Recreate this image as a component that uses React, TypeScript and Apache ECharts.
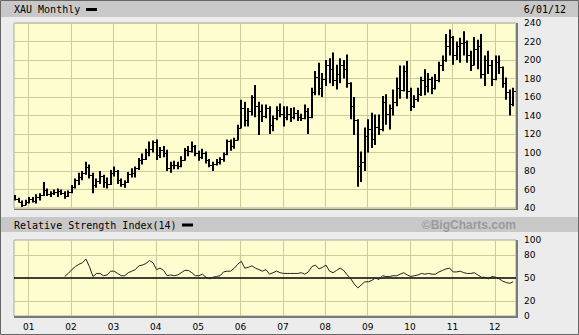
import React, { useEffect, useRef } from 'react';
import * as echarts from 'echarts';

// Monthly bars, Sep 2000 .. Jun 2012 (month index relative to Jan 2001 starts at -4)
const firstMonthIndex = -4;

const opens = [
  53, 50, 47, 43,
  47, 50, 48, 52, 54, 60, 55, 56, 57, 58, 56, 53,
  57, 63, 70, 73, 78, 84, 76, 65, 69, 75, 68, 66,
  78, 80, 70, 66, 68, 77, 78, 83, 92, 93, 101, 104,
  111, 97, 103, 100, 83, 86, 87, 85, 92, 103, 102, 107,
  100, 95, 100, 92, 86, 88, 90, 93, 98, 112, 107, 114,
  127, 148, 135, 145, 160, 150, 145, 140, 148, 130, 137, 146,
  142, 138, 142, 138, 143, 138, 137, 145, 138, 165, 182, 170,
  180, 195, 190, 178, 185, 195, 190, 175, 150, 135, 85, 90,
  118, 125, 115, 128, 125, 155, 142, 148, 155, 170, 168, 188,
  167, 150, 158, 163, 178, 172, 180, 170, 178, 195, 200, 215,
  225, 205, 215, 218, 220, 205, 195, 212, 215, 185, 200, 195,
  180, 198, 192, 175, 165, 152,
];

const highs = [
  54, 51, 48, 49,
  52, 52, 55, 56, 68, 61, 58, 60, 61, 60, 58, 59,
  65, 72, 78, 80, 90, 87, 78, 72, 80, 76, 73, 81,
  85, 81, 72, 70, 79, 83, 85, 94, 99, 104, 112, 113,
  114, 106, 107, 103, 90, 91, 90, 96, 105, 107, 112, 108,
  102, 104, 101, 93, 90, 93, 95, 100, 114, 114, 116, 130,
  157, 155, 148, 162, 173, 155, 152, 152, 150, 140, 150, 153,
  150, 150, 148, 149, 146, 142, 152, 148, 170, 188, 197, 186,
  200, 202, 208, 195, 202, 200, 206, 176, 160, 136, 101, 127,
  136, 143, 141, 141, 161, 163, 152, 168, 181, 194, 194, 199,
  170, 162, 170, 182, 190, 186, 182, 185, 198, 205, 228, 233,
  226, 220, 224, 231, 221, 210, 225, 222, 228, 205, 210, 200,
  205, 205, 193, 181, 168, 170,
];

const lows = [
  48, 46, 41, 43,
  45, 46, 45, 48, 53, 53, 52, 54, 52, 54, 50, 52,
  56, 61, 65, 70, 76, 72, 56, 62, 66, 62, 61, 65,
  74, 66, 63, 62, 67, 73, 73, 81, 87, 92, 96, 100,
  92, 94, 95, 80, 78, 82, 82, 84, 91, 96, 100, 96,
  91, 93, 88, 84, 80, 86, 87, 90, 97, 102, 104, 113,
  126, 128, 128, 140, 138, 119, 133, 137, 120, 123, 135, 138,
  128, 135, 133, 136, 134, 134, 136, 120, 137, 162, 162, 160,
  172, 175, 172, 168, 175, 180, 170, 136, 119, 63, 68, 80,
  100, 105, 108, 119, 123, 130, 125, 140, 150, 158, 166, 158,
  145, 148, 155, 161, 162, 165, 163, 168, 176, 188, 198, 205,
  195, 200, 197, 205, 197, 188, 194, 190, 180, 172, 185, 172,
  178, 185, 170, 157, 140, 150,
];

const closes = [
  50, 47, 43, 47,
  50, 48, 52, 54, 60, 55, 56, 57, 58, 56, 53, 57,
  63, 70, 73, 78, 84, 76, 65, 69, 75, 68, 66, 78,
  80, 70, 66, 68, 77, 78, 83, 92, 93, 101, 104, 111,
  97, 103, 100, 83, 86, 87, 85, 92, 103, 102, 107, 100,
  95, 100, 92, 86, 88, 90, 93, 98, 112, 107, 114, 127,
  148, 135, 145, 160, 150, 145, 140, 148, 130, 137, 146, 142,
  138, 142, 138, 143, 138, 137, 145, 138, 165, 182, 170, 180,
  195, 190, 178, 185, 195, 190, 175, 150, 135, 85, 90, 118,
  125, 115, 128, 125, 155, 142, 148, 155, 170, 168, 188, 167,
  150, 158, 163, 178, 172, 180, 170, 178, 195, 200, 215, 225,
  205, 215, 218, 220, 205, 195, 212, 215, 185, 200, 195, 180,
  198, 192, 175, 165, 152, 167,
];

// RSI(14), Nov 2001 .. Jun 2012
const rsiValues = [
  52, 56, 61, 65, 68, 70, 75, 65, 52, 56,
  56, 53, 54, 59, 59, 56, 53, 53, 57, 59,
  61, 66, 67, 69, 73, 70, 61, 63, 60, 53,
  54, 53, 54, 57, 60, 60, 57, 53, 53, 55,
  51, 49, 51, 52, 53, 58, 59, 59, 63, 68,
  72, 63, 64, 66, 63, 61, 59, 61, 55, 57,
  59, 57, 56, 56, 56, 56, 56, 57, 55, 58,
  65, 67, 62, 64, 67, 59, 57, 60, 63, 60,
  54, 49, 42, 37, 41, 45, 45, 47, 50, 48,
  53, 52, 52, 53, 53, 55, 57, 54, 52, 53,
  54, 56, 55, 56, 55, 55, 58, 60, 62, 63,
  58, 58, 59, 57, 56, 56, 57, 54, 51, 51,
  49, 52, 51, 49, 46, 44, 43, 45,
];

const yearLabels = ['01', '02', '03', '04', '05', '06', '07', '08', '09', '10', '11', '12'];
const rsiLabelValues = [0, 20, 50, 80, 100];
const rsiGridValues = [20, 80];
const rsiMidValue = 50;

const GRID_COLOR = '#cccc99';
const PLOT_BG = '#fdfdcf';

export default function App() {
  const ref = useRef<HTMLDivElement>(null);

  useEffect(() => {
    if (!ref.current) return;
    const chart = echarts.init(ref.current, null, { renderer: 'svg' });
    const barOffset = 0.2;
    const ohlc = opens.map((o, i) => [i + firstMonthIndex + barOffset, o, highs[i], lows[i], closes[i]]);
    const rsiStart = firstMonthIndex + 14;
    const rsiData = rsiValues.map((v, i) => [i + rsiStart + barOffset, v]);
    const yearTicks = yearLabels.map((_, i) => i * 12);
    const xMin = -4.16;
    const xMax = 138.0;

    const axisFont = { fontFamily: 'DejaVu Sans', fontSize: 9, color: '#000' };

    const xBase = (gridIndex: number, showLabels: boolean) => ({
      type: 'value',
      gridIndex,
      min: xMin,
      max: xMax,
      axisLine: { show: false },
      axisTick: { show: false, customValues: yearTicks },
      splitLine: { show: true, lineStyle: { color: GRID_COLOR, width: 1 } },
      axisLabel: showLabels
        ? {
            show: true,
            customValues: yearTicks,
            formatter: (v: number) => yearLabels[Math.round(v / 12)] ?? '',
            margin: 6,
            ...axisFont,
          }
        : { show: false },
    });

    const option: any = {
      animation: false,
      backgroundColor: 'transparent',
      grid: [
        { left: 14, right: 63, top: 23, height: 185, show: true, backgroundColor: PLOT_BG, borderColor: '#a8a8a8', borderWidth: 1 },
        { left: 14, right: 63, top: 240, height: 76, show: true, backgroundColor: PLOT_BG, borderColor: '#a8a8a8', borderWidth: 1 },
      ],
      xAxis: [xBase(0, false), xBase(1, true)],
      yAxis: [
        {
          type: 'value',
          gridIndex: 0,
          position: 'right',
          min: 40,
          max: 240,
          interval: 20,
          axisLine: { show: false },
          axisTick: { show: false },
          axisLabel: { margin: 8, ...axisFont },
          splitLine: { show: true, lineStyle: { color: GRID_COLOR, width: 1 } },
        },
        {
          type: 'value',
          gridIndex: 1,
          position: 'right',
          min: 0,
          max: 100,
          axisLine: { show: false },
          axisTick: { show: false, customValues: rsiGridValues },
          axisLabel: { margin: 8, customValues: rsiLabelValues, ...axisFont },
          splitLine: { show: true, lineStyle: { color: GRID_COLOR, width: 1 } },
        },
      ],
      series: [
        {
          type: 'custom',
          xAxisIndex: 0,
          yAxisIndex: 0,
          data: ohlc,
          encode: { x: 0, y: [1, 2, 3, 4] },
          clip: true,
          z: 5,
          renderItem: (params: any, api: any) => {
            const x = api.value(0);
            const pH = api.coord([x, api.value(2)]);
            const pL = api.coord([x, api.value(3)]);
            const pO = api.coord([x, api.value(1)]);
            const pC = api.coord([x, api.value(4)]);
            const cx = Math.round(pH[0]);
            const oy = Math.round(pO[1]) + 0.5;
            const cy = Math.round(pC[1]) + 0.5;
            return {
              type: 'group',
              children: [
                { type: 'line', shape: { x1: cx, y1: pH[1], x2: cx, y2: pL[1] }, style: { stroke: '#000', lineWidth: 2 } },
                { type: 'line', shape: { x1: cx - 3, y1: oy, x2: cx, y2: oy }, style: { stroke: '#000', lineWidth: 1 } },
                { type: 'line', shape: { x1: cx, y1: cy, x2: cx + 3, y2: cy }, style: { stroke: '#000', lineWidth: 1 } },
              ],
            };
          },
        },
        {
          type: 'line',
          xAxisIndex: 1,
          yAxisIndex: 1,
          data: rsiData,
          showSymbol: false,
          symbol: 'none',
          lineStyle: { color: '#222', width: 1 },
          z: 5,
          markLine: {
            silent: true,
            symbol: ['none', 'none'],
            label: { show: false },
            lineStyle: { color: '#000', width: 1.5, type: 'solid' },
            data: [{ yAxis: rsiMidValue }],
          },
        },
      ],
      graphic: [
        { type: 'rect', shape: { x: 0.5, y: 0.5, width: 578, height: 334 }, style: { fill: 'none', stroke: '#666', lineWidth: 1 } },
        { type: 'rect', shape: { x: 1, y: 1, width: 577, height: 16 }, style: { fill: '#c8c8c8' } },
        { type: 'rect', shape: { x: 1, y: 217, width: 577, height: 15 }, style: { fill: '#c8c8c8' } },
        {
          type: 'text',
          style: { text: 'XAU Monthly', x: 14, y: 9.5, fill: '#000', font: '10px "DejaVu Sans Mono"', align: 'left', verticalAlign: 'middle', textAlign: 'left', textVerticalAlign: 'middle' },
        },
        { type: 'rect', shape: { x: 86, y: 8, width: 11, height: 3 }, style: { fill: '#000' } },
        {
          type: 'text',
          style: { text: '6/01/12', x: 566, y: 9.5, fill: '#000', font: '10px "DejaVu Sans Mono"', align: 'right', verticalAlign: 'middle', textAlign: 'right', textVerticalAlign: 'middle' },
        },
        {
          type: 'text',
          style: { text: 'Relative Strength Index(14)', x: 14, y: 225, fill: '#000', font: '10px "DejaVu Sans Mono"', align: 'left', verticalAlign: 'middle', textAlign: 'left', textVerticalAlign: 'middle' },
        },
        { type: 'rect', shape: { x: 182, y: 223.5, width: 11, height: 3 }, style: { fill: '#000' } },
        {
          type: 'text',
          style: { text: '©BigCharts.com', x: 516, y: 225, fill: '#9a9a9a', font: 'bold 12px "Liberation Sans"', align: 'right', verticalAlign: 'middle', textAlign: 'right', textVerticalAlign: 'middle' },
        },
        // plot frame shadows
        { type: 'line', shape: { x1: 14, y1: 209, x2: 518, y2: 209 }, style: { stroke: '#7a7a7a', lineWidth: 2 } },
        { type: 'line', shape: { x1: 517, y1: 23, x2: 517, y2: 210 }, style: { stroke: '#7a7a7a', lineWidth: 2 } },
        { type: 'line', shape: { x1: 14, y1: 317, x2: 518, y2: 317 }, style: { stroke: '#7a7a7a', lineWidth: 2 } },
        { type: 'line', shape: { x1: 517, y1: 240, x2: 517, y2: 318 }, style: { stroke: '#7a7a7a', lineWidth: 2 } },
      ],
    };

    chart.setOption(option);
    return () => chart.dispose();
  }, []);

  return (
    <div
      ref={ref}
      style={{ position: 'absolute', left: 0, top: 0, width: 579, height: 335, background: '#ececec' }}
    />
  );
}
